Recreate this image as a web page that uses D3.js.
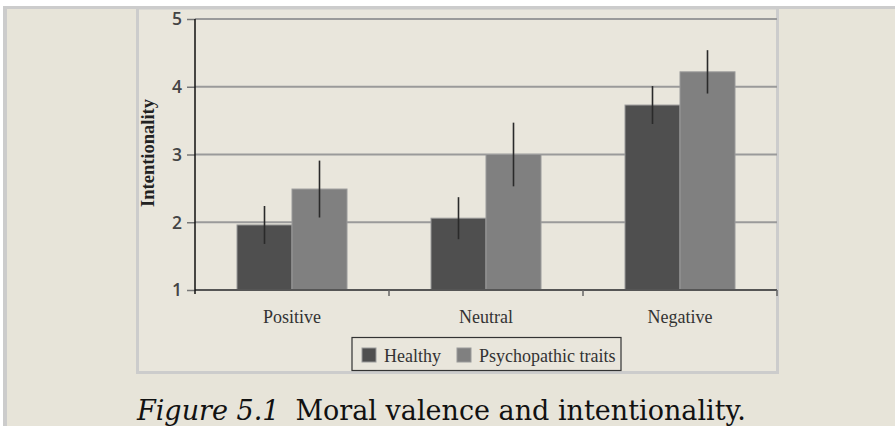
<!DOCTYPE html>
<html lang="en">
<head>
  <meta charset="UTF-8" />
  <title>Moral valence and intentionality</title>
  <style>
    html, body { margin: 0; padding: 0; background: #fff; }
    svg { display: block; }
    .serif { font-family: "Liberation Serif", "DejaVu Serif", serif; }
  </style>
</head>
<body>
  <div id="chart"></div>
  <script src="https://d3js.org/d3.v7.min.js"></script>
  <script>
    const categories = ['Positive', 'Neutral', 'Negative'];
    const seriesNames = ['Healthy', 'Psychopathic traits'];
    const healthy = [1.96, 2.06, 3.73];
    const healthyErr = [0.28, 0.31, 0.28];
    const psycho = [2.49, 3.00, 4.22];
    const psychoErr = [0.42, 0.47, 0.32];
    const yTicks = [1, 2, 3, 4, 5];

    const colors = ['#4f4f4f', '#808080'];
    const W = 895, H = 426;
    const bg = '#e7e4d9', frame = '#cccccc';

    const svg = d3.select('#chart').append('svg')
      .attr('width', W).attr('height', H);

    // page background + frames
    svg.append('rect').attr('x', 0).attr('y', 0).attr('width', W).attr('height', H).attr('fill', '#fff');
    svg.append('rect').attr('x', 3).attr('y', 6).attr('width', W - 3).attr('height', H - 6).attr('fill', frame);
    svg.append('rect').attr('x', 7).attr('y', 9).attr('width', W - 7).attr('height', H - 9).attr('fill', bg);
    // chart panel frame
    svg.append('rect').attr('x', 137.5).attr('y', 8).attr('width', 640).attr('height', 364.5)
      .attr('fill', '#e9e6dc').attr('stroke', frame).attr('stroke-width', 3);

    const x = d3.scaleBand().domain(categories).range([195, 777]);
    const y = d3.scaleLinear().domain([1, 5]).range([290, 19]);
    const inner = d3.scaleBand().domain(seriesNames).range([-55, 55]);

    const g = svg.append('g');

    // gridlines
    g.selectAll('.grid').data(yTicks.slice(1)).enter().append('line')
      .attr('x1', 195).attr('x2', 777)
      .attr('y1', d => y(d)).attr('y2', d => y(d))
      .attr('stroke', '#9a9a9a').attr('stroke-width', 2);

    // y axis
    const yAxis = d3.axisLeft(y).tickValues(yTicks).tickSize(8).tickPadding(5).tickFormat(d3.format('d'));
    const ya = g.append('g').attr('transform', 'translate(195,0)').call(yAxis);
    ya.select('.domain').remove();
    ya.selectAll('.tick line').attr('stroke', '#777').attr('stroke-width', 1.5);
    ya.selectAll('.tick text')
      .attr('font-family', '"Open Sans", sans-serif').attr('font-weight', 600)
      .attr('font-size', 17.5).attr('fill', '#444').attr('dy', '0.34em');

    // bars
    const rows = categories.map((c, i) => [
      { c, s: seriesNames[0], v: healthy[i], e: healthyErr[i], col: colors[0] },
      { c, s: seriesNames[1], v: psycho[i], e: psychoErr[i], col: colors[1] }
    ]).flat();

    g.selectAll('.bar').data(rows).enter().append('rect')
      .attr('x', d => x(d.c) + x.bandwidth() / 2 + inner(d.s))
      .attr('y', d => y(d.v))
      .attr('width', inner.bandwidth())
      .attr('height', d => y(1) - y(d.v))
      .attr('fill', d => d.col)
      .attr('stroke', '#9a9a9a').attr('stroke-width', 1);

    g.selectAll('.err').data(rows).enter().append('line')
      .attr('x1', d => x(d.c) + x.bandwidth() / 2 + inner(d.s) + inner.bandwidth() / 2)
      .attr('x2', d => x(d.c) + x.bandwidth() / 2 + inner(d.s) + inner.bandwidth() / 2)
      .attr('y1', d => y(d.v + d.e)).attr('y2', d => y(d.v - d.e))
      .attr('stroke', '#2a2a2a').attr('stroke-width', 1.6);

    // x axis
    g.append('line').attr('x1', 195).attr('x2', 777).attr('y1', y(1)).attr('y2', y(1))
      .attr('stroke', '#555').attr('stroke-width', 2);
    g.selectAll('.xt').data(categories.map((c, i) => i + 1)).enter().append('line')
      .attr('x1', d => 195 + d * x.bandwidth()).attr('x2', d => 195 + d * x.bandwidth())
      .attr('y1', y(1)).attr('y2', y(1) + 6)
      .attr('stroke', '#666').attr('stroke-width', 1.5);
    g.append('line').attr('x1', 195).attr('x2', 195).attr('y1', y(5)).attr('y2', y(1) + 4)
      .attr('stroke', '#111').attr('stroke-width', 1.5);

    g.selectAll('.xl').data(categories).enter().append('text')
      .attr('class', 'serif')
      .attr('x', d => x(d) + x.bandwidth() / 2).attr('y', 323)
      .attr('text-anchor', 'middle').attr('font-size', 18).attr('fill', '#333')
      .text(d => d);

    // y title
    g.append('text').attr('class', 'serif')
      .attr('transform', 'translate(154,153) rotate(-90)')
      .attr('text-anchor', 'middle').attr('font-size', 18.5).attr('font-weight', 'bold').attr('fill', '#222')
      .text('Intentionality');

    // legend
    const lg = svg.append('g');
    lg.append('rect').attr('x', 352).attr('y', 337.5).attr('width', 269).attr('height', 33)
      .attr('fill', '#e9e6dc').attr('stroke', '#333').attr('stroke-width', 1.2);
    const legendX = [362, 457];
    seriesNames.forEach((s, i) => {
      lg.append('rect').attr('x', legendX[i]).attr('y', 348).attr('width', 14).attr('height', 14)
        .attr('fill', colors[i]).attr('stroke', '#9a9a9a').attr('stroke-width', 1);
      lg.append('text').attr('class', 'serif')
        .attr('x', legendX[i] + 22).attr('y', 362)
        .attr('font-size', 18).attr('fill', '#333').text(s);
    });

    // caption
    const cap = svg.append('text')
      .attr('x', 137).attr('y', 420)
      .attr('font-family', '"DejaVu Serif", serif').attr('font-size', 27).attr('fill', '#111');
    cap.append('tspan').attr('font-style', 'italic').text('Figure 5.1');
    cap.append('tspan').attr('dx', 16).text('Moral valence and intentionality.');
  </script>
</body>
</html>
